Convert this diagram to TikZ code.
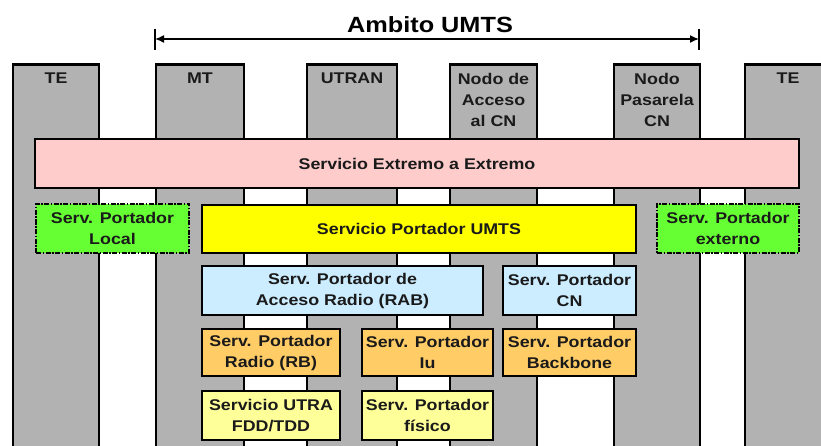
\documentclass[tikz,border=0pt]{standalone}
\usepackage{fontspec}
\setmainfont{Liberation Sans}[FakeStretch=1.15]
\usetikzlibrary{arrows.meta}
\definecolor{colgray}{RGB}{178,178,178}
\definecolor{pinkfill}{RGB}{255,204,204}
\definecolor{greenfill}{RGB}{102,255,51}
\definecolor{yellowfill}{RGB}{255,255,0}
\definecolor{bluefill}{RGB}{204,236,255}
\definecolor{orangefill}{RGB}{255,204,102}
\definecolor{lyellowfill}{RGB}{255,255,153}
\definecolor{txt}{RGB}{26,26,26}
\tikzset{
  colbox/.style={draw=black, fill=colgray, line width=2.6pt, minimum height=430, anchor=north, inner sep=0},
  collabel/.style={anchor=north, inner sep=0, align=center, text=txt, font=\fontsize{15.5}{21}\selectfont\bfseries},
  layerbox/.style={draw=black, line width=2.6pt, inner sep=0, align=center, text=txt, font=\fontsize{15.5}{21}\selectfont\bfseries},
  dashbox/.style={layerbox, line width=2pt, dash pattern=on 5pt off 1.5pt on 1.5pt off 1.5pt, fill=greenfill},
  titlefont/.style={font=\fontsize{22}{26}\selectfont\bfseries, text=black, inner sep=0}
}
\begin{document}
\begin{tikzpicture}[x=1pt,y=-1pt]
\useasboundingbox (0,0) rectangle (821,446);
\begin{scope}
\clip (0,0) rectangle (821,446);
\node[colbox, minimum width=86] (te1) at (56,63) {};
\node[colbox, minimum width=88] (mt) at (200,63) {};
\node[colbox, minimum width=90] (utran) at (352,63) {};
\node[colbox, minimum width=87] (nac) at (493.5,63) {};
\node[colbox, minimum width=86] (npc) at (657,63) {};
\node[colbox, minimum width=86] (te2) at (788,63) {};
\end{scope}
\node[collabel] (lte1) at (56,73) {TE};
\node[collabel] (lmt) at (200,73) {MT};
\node[collabel] (lutran) at (352,73) {UTRAN};
\node[collabel] (lnac) at (493.5,73) {Nodo de\\Acceso\\al CN};
\node[collabel] (lnpc) at (657,73) {Nodo\\Pasarela\\CN};
\node[collabel] (lte2) at (788,73) {TE};
% title and range arrow
\node[titlefont] (title) at (430,25) {Ambito UMTS};
\coordinate (aL) at (155,39);
\coordinate (aR) at (699,39);
\draw[line width=1.5pt, {Latex[length=9pt,width=8pt]}-{Latex[length=9pt,width=8pt]}] (aL) -- (aR);
\draw[line width=1.5pt] (aL) ++(0,-10) -- ++(0,21);
\draw[line width=1.5pt] (aR) ++(0,-10) -- ++(0,21);
% layers
\node[layerbox, fill=pinkfill, minimum width=764, minimum height=49] (e2e) at (417,163.5) {Servicio Extremo a Extremo};
\node[dashbox, minimum width=153, minimum height=49] (local) at (112.5,228.5) {Serv. Portador\\Local};
\node[layerbox, fill=yellowfill, minimum width=434, minimum height=48] (umts) at (419,229) {Servicio Portador UMTS};
\node[dashbox, minimum width=142, minimum height=49] (ext) at (728,228.5) {Serv. Portador\\externo};
\node[layerbox, fill=bluefill, minimum width=281, minimum height=49] (rab) at (342.5,290.5) {Serv. Portador de\\Acceso Radio (RAB)};
\node[layerbox, fill=bluefill, minimum width=133, minimum height=49] (cn) at (569.5,290.5) {Serv. Portador\\CN};
\node[layerbox, fill=orangefill, minimum width=138, minimum height=47] (rb) at (271,352.5) {Serv. Portador\\Radio (RB)};
\node[layerbox, fill=orangefill, minimum width=131, minimum height=47] (iu) at (427.5,352.5) {Serv. Portador\\Iu};
\node[layerbox, fill=orangefill, minimum width=133, minimum height=47] (bb) at (569.5,352.5) {Serv. Portador\\Backbone};
\node[layerbox, fill=lyellowfill, minimum width=138, minimum height=49] (utra) at (271,415.5) {Servicio UTRA\\FDD/TDD};
\node[layerbox, fill=lyellowfill, minimum width=131, minimum height=49] (fis) at (427.5,415.5) {Serv. Portador\\físico};
\end{tikzpicture}
\end{document}
